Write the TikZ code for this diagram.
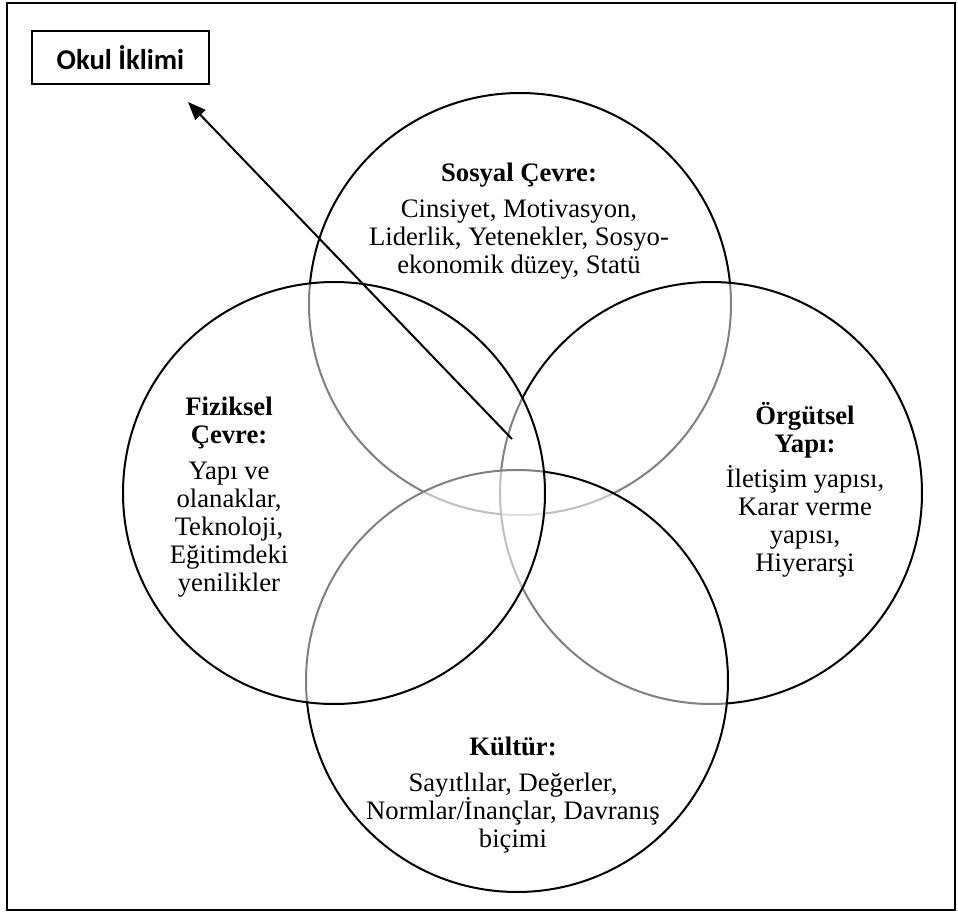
\documentclass[tikz,border=0pt]{standalone}
\usepackage{fontspec}
\setmainfont{Liberation Serif}
\newfontfamily\calfont{Carlito}
\usetikzlibrary{arrows.meta}
\tikzset{
  circ/.style={circle, draw=black, line width=1.5pt, fill=white, fill opacity=0.5, minimum size=316.5pt, inner sep=0pt},
  lbl/.style={align=center, inner sep=0pt, font=\fontsize{20pt}{21pt}\selectfont},
  titlebox/.style={draw=black, line width=1.4pt, minimum width=132.75pt, minimum height=39.75pt, inner sep=0pt, font=\calfont\bfseries\fontsize{21.5pt}{26pt}\selectfont},
  frame/.style={draw=black, line width=1.5pt},
  pointer/.style={line width=1.5pt, -{Triangle[length=13.5pt,width=10.5pt]}}
}
\begin{document}
\begin{tikzpicture}[x=0.75pt, y=-0.75pt]
\useasboundingbox (0,0) rectangle (958,914);
\draw[frame] (7,3) rectangle (955,910);
\node[titlebox] (okul) at (120.5,57.5) {Okul İklimi};
% circles in drawing order
\node[circ] (sosyal) at (520,304) {};
\node[circ] (orgutsel) at (711,493) {};
\node[circ] (kultur) at (517,681) {};
\node[circ] (fiziksel) at (334,493) {};
% labels
\node[lbl] (tsosyal) at (519,221) {\textbf{Sosyal Çevre:}\\[5.5pt]Cinsiyet, Motivasyon,\\Liderlik, Yetenekler, Sosyo-\\ekonomik düzey, Statü};
\node[lbl] (tfiziksel) at (229,497) {\textbf{Fiziksel}\\\textbf{Çevre:}\\[5.5pt]Yapı ve\\olanaklar,\\Teknoloji,\\Eğitimdeki\\yenilikler};
\node[lbl] (torgutsel) at (805,490) {\textbf{Örgütsel}\\\textbf{Yapı:}\\[5.5pt]İletişim yapısı,\\Karar verme\\yapısı,\\Hiyerarşi};
\node[lbl] (tkultur) at (513,795) {\textbf{Kültür:}\\[5.5pt]Sayıtlılar, Değerler,\\Normlar/İnançlar, Davranış\\biçimi};
% arrow
\coordinate (arrowstart) at (512,439);
\coordinate (arrowend) at (188,102);
\draw[pointer] (arrowstart) -- (arrowend);
\end{tikzpicture}
\end{document}
